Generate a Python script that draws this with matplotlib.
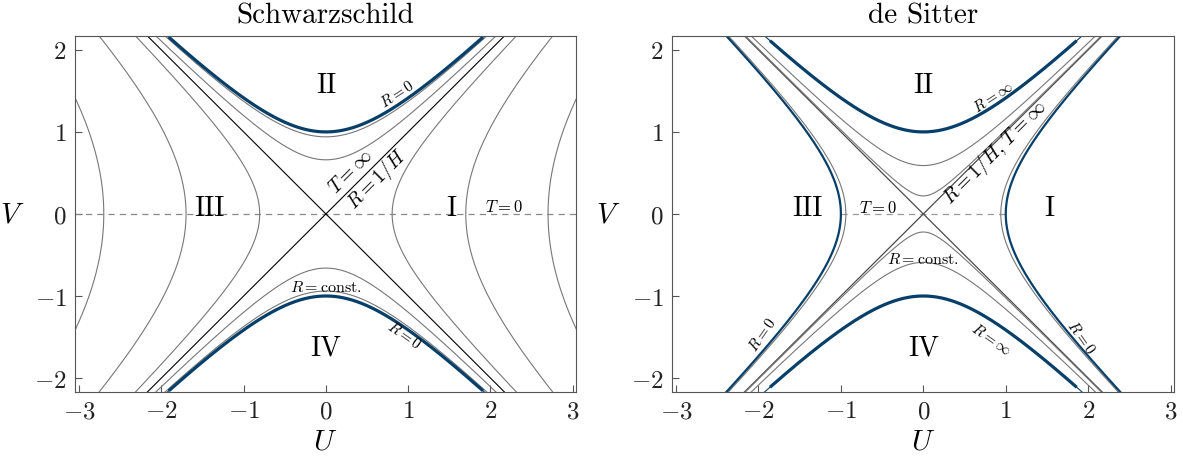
import numpy as np
import matplotlib
matplotlib.use("Agg")
import matplotlib.pyplot as plt

plt.rcParams['font.family'] = 'serif'
plt.rcParams['font.serif'] = ['cmr10']
plt.rcParams['mathtext.fontset'] = 'cm'
plt.rcParams['axes.formatter.use_mathtext'] = True

# apex values of the R = const hyperbolas
schw_future_apex = [0.94, 0.66]      # region II / IV, gray
schw_static_apex = [0.805, 1.70, 2.70]  # region I / III, gray
schw_singularity = 1.0               # R = 0 (blue)

ds_future_apex = [0.59, 0.22]        # region II / IV, gray
ds_static_apex = [0.94]              # region I / III, gray
ds_infinity = 1.0                    # R = inf (blue)
ds_origin = 1.0                      # R = 0 (blue)

ticks_u = [-3, -2, -1, 0, 1, 2, 3]
ticks_v = [-2, -1, 0, 1, 2]

blue = "#063f69"
gray = "#777777"

u = np.linspace(-3.3, 3.3, 800)
v = np.linspace(-2.4, 2.4, 800)


def future(ax, a, **kw):
    w = np.sqrt(u**2 + a**2)
    ax.plot(u, w, **kw)
    ax.plot(u, -w, **kw)


def static(ax, a, **kw):
    w = np.sqrt(v**2 + a**2)
    ax.plot(w, v, **kw)
    ax.plot(-w, v, **kw)


def thick(ax, a, lim):
    m = np.abs(u) <= lim
    w = np.sqrt(u[m]**2 + a**2)
    ax.plot(u[m], w, color=blue, lw=2.3)
    ax.plot(u[m], -w, color=blue, lw=2.3)


fig = plt.figure(figsize=(11.83, 4.6), dpi=100)
ax1 = fig.add_axes([0.0634, 0.1457, 0.4235, 0.774])
ax2 = fig.add_axes([0.568, 0.1457, 0.4243, 0.774])

# ---- Schwarzschild ----
ax1.plot([-3.2, 3.2], [0, 0], ls=(0, (5, 4)), color="#888888", lw=0.9)
ax1.plot(u, u, color="black", lw=0.8)
ax1.plot(u, -u, color="black", lw=0.8)
for a in schw_future_apex:
    future(ax1, a, color=gray, lw=0.8)
for a in schw_static_apex:
    static(ax1, a, color=gray, lw=0.8)
future(ax1, schw_singularity, color=blue, lw=0.8)
thick(ax1, schw_singularity, 1.9)

lab = dict(fontsize=20, ha='center', va='center')
ax1.text(0, 1.57, "II", **lab)
ax1.text(0, -1.62, "IV", **lab)
ax1.text(-1.41, 0.07, "III", **lab)
ax1.text(1.52, 0.07, "I", **lab)
ax1.text(0.87, 1.47, r"$R=0$", fontsize=11, rotation=33, ha='center', va='center')
ax1.text(0.95, -1.47, r"$R=0$", fontsize=11, rotation=-35, ha='center', va='center')
ax1.text(0, -0.88, r"$R=\mathrm{const.}$", fontsize=11.5, ha='center', va='center')
ax1.text(0.3, 0.52, r"$T=\infty$", fontsize=14, rotation=45, ha='center', va='center')
ax1.text(0.62, 0.43, r"$R=1/H$", fontsize=14, rotation=45, ha='center', va='center')
ax1.text(2.17, 0.1, r"$T=0$", fontsize=12, ha='center', va='center')
ax1.set_title("Schwarzschild", fontsize=21, pad=10)

# ---- de Sitter ----
ax2.plot([-1.0, 1.0], [0, 0], ls=(0, (5, 4)), color="#999999", lw=0.9)
ax2.plot(u, u, color="#4a4a4a", lw=0.9)
ax2.plot(u, -u, color="#4a4a4a", lw=0.9)
for a in ds_future_apex:
    future(ax2, a, color=gray, lw=0.8)
for a in ds_static_apex:
    static(ax2, a, color=gray, lw=0.8)
static(ax2, ds_origin, color=blue, lw=1.6)
future(ax2, ds_infinity, color=blue, lw=0.8)
thick(ax2, ds_infinity, 1.85)

ax2.text(0, 1.57, "II", **lab)
ax2.text(0, -1.62, "IV", **lab)
ax2.text(-1.41, 0.07, "III", **lab)
ax2.text(1.53, 0.07, "I", **lab)
ax2.text(0.85, 1.43, r"$R=\infty$", fontsize=11, rotation=33, ha='center', va='center')
ax2.text(0.82, -1.52, r"$R=\infty$", fontsize=11, rotation=-35, ha='center', va='center')
ax2.text(0.87, 0.76, r"$R=1/H,\,T=\infty$", fontsize=14, rotation=45, ha='center', va='center')
ax2.text(-0.55, 0.08, r"$T=0$", fontsize=12, ha='center', va='center')
ax2.text(0, -0.54, r"$R=\mathrm{const.}$", fontsize=11.5, ha='center', va='center')
ax2.text(-1.95, -1.46, r"$R=0$", fontsize=11, rotation=55, ha='center', va='center')
ax2.text(1.92, -1.5, r"$R=0$", fontsize=11, rotation=-55, ha='center', va='center')
ax2.set_title("de Sitter", fontsize=21, pad=10)

for ax in (ax1, ax2):
    ax.set_xlim(-3.05, 3.04)
    ax.set_ylim(-2.17, 2.17)
    ax.set_xticks(ticks_u)
    ax.set_yticks(ticks_v)
    ax.tick_params(direction='in', labelsize=18, length=5, width=0.8, pad=6,
                   color="#555555", labelcolor="#222222")
    for s in ax.spines.values():
        s.set_color("#555555")
        s.set_linewidth(0.8)
    ax.set_xlabel(r"$U$", fontsize=21, labelpad=4)
    ax.set_ylabel(r"$V$", fontsize=21, rotation=0, labelpad=16, va='center')

fig.savefig("out.png", dpi=100)
